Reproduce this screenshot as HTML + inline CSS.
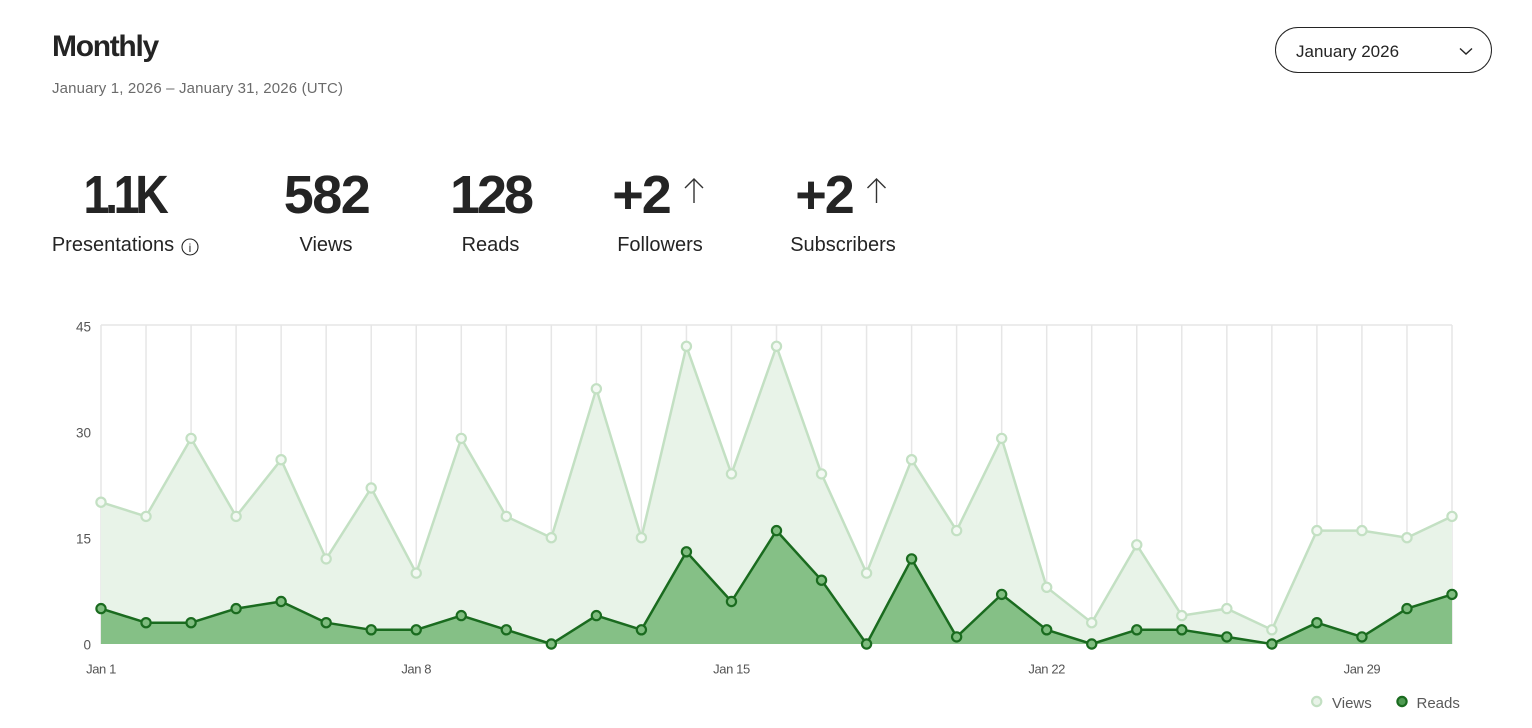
<!DOCTYPE html>
<html>
<head>
<meta charset="utf-8">
<style>
  html,body{margin:0;padding:0;background:#fff;}
  body{width:1532px;height:728px;position:relative;overflow:hidden;font-family:"Liberation Sans",sans-serif;color:#242424;}
  .abs{position:absolute;white-space:nowrap;line-height:1;}
  .title{left:52px;top:31.6px;font-size:30px;font-weight:bold;letter-spacing:-1.3px;}
  .date{left:52px;top:80.6px;font-size:15px;color:#6b6b6b;letter-spacing:0.15px;}
  .dd{position:absolute;left:1275px;top:26.5px;width:215px;height:44px;border:1px solid #242424;border-radius:23px;}
  .ddt{left:1296px;top:42.6px;font-size:17px;color:#242424;}
  .num{font-size:54px;font-weight:bold;top:168.3px;width:200px;text-align:center;letter-spacing:-1.5px;}
  .lab{font-size:20px;top:235.4px;width:200px;text-align:center;}
</style>
</head>
<body>
<div class="abs title">Monthly</div>
<div class="abs date">January 1, 2026 – January 31, 2026 (UTC)</div>
<div class="dd"></div>
<div class="abs ddt">January 2026</div>

<div class="abs num" style="left:24px;letter-spacing:-5px;transform:scaleX(0.86);transform-origin:100px 50%;">1.1K</div>
<div class="abs num" style="left:226.5px;">582</div>
<div class="abs num" style="left:390.5px;letter-spacing:-3px;">128</div>
<div class="abs num" style="left:541px;letter-spacing:-2px;">+2</div>
<div class="abs num" style="left:724px;letter-spacing:-2px;">+2</div>

<div class="abs lab" style="left:13px;">Presentations</div>
<div class="abs lab" style="left:226px;">Views</div>
<div class="abs lab" style="left:390.5px;">Reads</div>
<div class="abs lab" style="left:560px;">Followers</div>
<div class="abs lab" style="left:743px;">Subscribers</div>

<svg class="abs" style="left:0;top:0;" width="1532" height="728" viewBox="0 0 1532 728" xmlns="http://www.w3.org/2000/svg">
  <defs>
    <marker id="mv" viewBox="-7 -7 14 14" markerWidth="14" markerHeight="14" refX="0" refY="0" markerUnits="userSpaceOnUse">
      <circle r="4.6" fill="#f3f9f3" stroke="#c3e0c3" stroke-width="2.2"/>
    </marker>
    <marker id="mr" viewBox="-7 -7 14 14" markerWidth="14" markerHeight="14" refX="0" refY="0" markerUnits="userSpaceOnUse">
      <circle r="4.6" fill="#7fbd7f" stroke="#1a6b1f" stroke-width="2.2"/>
    </marker>
  </defs>

  <!-- dropdown chevron -->
  <polyline points="1460,48.5 1466,54 1472,48.5" fill="none" stroke="#242424" stroke-width="1.4"/>

  <!-- info icon -->
  <circle cx="190" cy="247" r="8" fill="none" stroke="#242424" stroke-width="1.1"/>
  <text x="190" y="252" font-family="Liberation Sans, sans-serif" font-size="12" text-anchor="middle" fill="#242424">i</text>

  <!-- arrows -->
  <g stroke="#333" stroke-width="1.4" fill="none">
    <line x1="694" y1="179" x2="694" y2="203"/>
    <polyline points="685,188 694,179 703,188"/>
    <line x1="876.5" y1="179" x2="876.5" y2="203"/>
    <polyline points="867.5,188 876.5,179 885.5,188"/>
  </g>

  <!-- grid -->
  <g stroke="#e6e6e6" stroke-width="1.5">
    <line x1="101" y1="325" x2="1452" y2="325"/>
    <line x1="101" y1="325" x2="101" y2="644"/>
    <line x1="146.03" y1="325" x2="146.03" y2="644"/>
    <line x1="191.07" y1="325" x2="191.07" y2="644"/>
    <line x1="236.1" y1="325" x2="236.1" y2="644"/>
    <line x1="281.13" y1="325" x2="281.13" y2="644"/>
    <line x1="326.17" y1="325" x2="326.17" y2="644"/>
    <line x1="371.2" y1="325" x2="371.2" y2="644"/>
    <line x1="416.23" y1="325" x2="416.23" y2="644"/>
    <line x1="461.27" y1="325" x2="461.27" y2="644"/>
    <line x1="506.3" y1="325" x2="506.3" y2="644"/>
    <line x1="551.33" y1="325" x2="551.33" y2="644"/>
    <line x1="596.37" y1="325" x2="596.37" y2="644"/>
    <line x1="641.4" y1="325" x2="641.4" y2="644"/>
    <line x1="686.43" y1="325" x2="686.43" y2="644"/>
    <line x1="731.47" y1="325" x2="731.47" y2="644"/>
    <line x1="776.5" y1="325" x2="776.5" y2="644"/>
    <line x1="821.53" y1="325" x2="821.53" y2="644"/>
    <line x1="866.57" y1="325" x2="866.57" y2="644"/>
    <line x1="911.6" y1="325" x2="911.6" y2="644"/>
    <line x1="956.63" y1="325" x2="956.63" y2="644"/>
    <line x1="1001.67" y1="325" x2="1001.67" y2="644"/>
    <line x1="1046.7" y1="325" x2="1046.7" y2="644"/>
    <line x1="1091.73" y1="325" x2="1091.73" y2="644"/>
    <line x1="1136.77" y1="325" x2="1136.77" y2="644"/>
    <line x1="1181.8" y1="325" x2="1181.8" y2="644"/>
    <line x1="1226.83" y1="325" x2="1226.83" y2="644"/>
    <line x1="1271.87" y1="325" x2="1271.87" y2="644"/>
    <line x1="1316.9" y1="325" x2="1316.9" y2="644"/>
    <line x1="1361.93" y1="325" x2="1361.93" y2="644"/>
    <line x1="1406.97" y1="325" x2="1406.97" y2="644"/>
    <line x1="1452" y1="325" x2="1452" y2="644"/>
  </g>

  <!-- views area -->
  <polygon fill="#e8f3e8" points="101,502.2 146.03,516.4 191.07,438.4 236.1,516.4 281.13,459.7 326.17,558.9 371.2,488 416.23,573.1 461.27,438.4 506.3,516.4 551.33,537.7 596.37,388.8 641.4,537.7 686.43,346.3 731.47,473.9 776.5,346.3 821.53,473.9 866.57,573.1 911.6,459.7 956.63,530.6 1001.67,438.4 1046.7,587.3 1091.73,622.7 1136.77,544.8 1181.8,615.6 1226.83,608.6 1271.87,629.8 1316.9,530.6 1361.93,530.6 1406.97,537.7 1452,516.4 1452,644 101,644"/>
  <!-- reads area -->
  <polygon fill="#85c086" points="101,608.6 146.03,622.7 191.07,622.7 236.1,608.6 281.13,601.5 326.17,622.7 371.2,629.8 416.23,629.8 461.27,615.6 506.3,629.8 551.33,644 596.37,615.6 641.4,629.8 686.43,551.8 731.47,601.5 776.5,530.6 821.53,580.2 866.57,644 911.6,558.9 956.63,636.9 1001.67,594.4 1046.7,629.8 1091.73,644 1136.77,629.8 1181.8,629.8 1226.83,636.9 1271.87,644 1316.9,622.7 1361.93,636.9 1406.97,608.6 1452,594.4 1452,644 101,644"/>

  <!-- views line -->
  <polyline fill="none" stroke="#c3e0c3" stroke-width="2.5" stroke-linejoin="round" marker-start="url(#mv)" marker-mid="url(#mv)" marker-end="url(#mv)"
    points="101,502.2 146.03,516.4 191.07,438.4 236.1,516.4 281.13,459.7 326.17,558.9 371.2,488 416.23,573.1 461.27,438.4 506.3,516.4 551.33,537.7 596.37,388.8 641.4,537.7 686.43,346.3 731.47,473.9 776.5,346.3 821.53,473.9 866.57,573.1 911.6,459.7 956.63,530.6 1001.67,438.4 1046.7,587.3 1091.73,622.7 1136.77,544.8 1181.8,615.6 1226.83,608.6 1271.87,629.8 1316.9,530.6 1361.93,530.6 1406.97,537.7 1452,516.4"/>
  <!-- reads line -->
  <polyline fill="none" stroke="#1a6b1f" stroke-width="2.5" stroke-linejoin="round" marker-start="url(#mr)" marker-mid="url(#mr)" marker-end="url(#mr)"
    points="101,608.6 146.03,622.7 191.07,622.7 236.1,608.6 281.13,601.5 326.17,622.7 371.2,629.8 416.23,629.8 461.27,615.6 506.3,629.8 551.33,644 596.37,615.6 641.4,629.8 686.43,551.8 731.47,601.5 776.5,530.6 821.53,580.2 866.57,644 911.6,558.9 956.63,636.9 1001.67,594.4 1046.7,629.8 1091.73,644 1136.77,629.8 1181.8,629.8 1226.83,636.9 1271.87,644 1316.9,622.7 1361.93,636.9 1406.97,608.6 1452,594.4"/>

  <!-- y labels -->
  <g font-family="Liberation Sans, sans-serif" font-size="13.5" fill="#555" text-anchor="end">
    <text x="91" y="331.5">45</text>
    <text x="91" y="437.5">30</text>
    <text x="91" y="543.5">15</text>
    <text x="91" y="649.5">0</text>
  </g>
  <!-- x labels -->
  <g font-family="Liberation Sans, sans-serif" font-size="13" fill="#555" text-anchor="middle" letter-spacing="-0.4">
    <text x="101" y="673.5">Jan 1</text>
    <text x="416.23" y="673.5">Jan 8</text>
    <text x="731.47" y="673.5">Jan 15</text>
    <text x="1046.7" y="673.5">Jan 22</text>
    <text x="1361.93" y="673.5">Jan 29</text>
  </g>

  <!-- legend -->
  <circle cx="1316.7" cy="701.5" r="4.6" fill="#e8f3e8" stroke="#c3e0c3" stroke-width="2.2"/>
  <circle cx="1402" cy="701.5" r="4.6" fill="#4f9a52" stroke="#1a6b1f" stroke-width="2.2"/>
  <g font-family="Liberation Sans, sans-serif" font-size="15" fill="#5a5a5a">
    <text x="1332" y="708">Views</text>
    <text x="1416.5" y="708">Reads</text>
  </g>
</svg>
</body>
</html>
